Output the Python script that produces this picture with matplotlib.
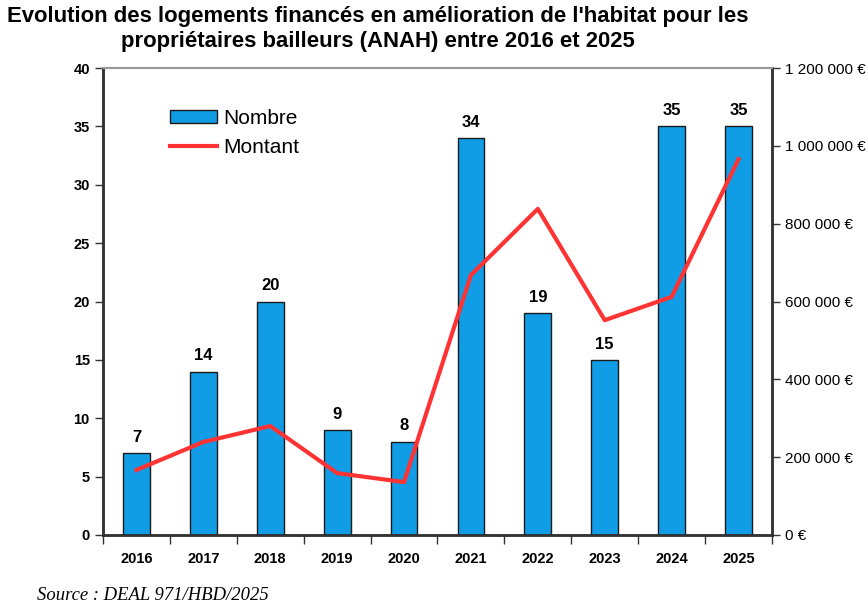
import matplotlib
matplotlib.use("Agg")
import matplotlib.pyplot as plt
import numpy as np
from matplotlib.ticker import FuncFormatter

years = ["2016", "2017", "2018", "2019", "2020", "2021", "2022", "2023", "2024", "2025"]
nombre = [7, 14, 20, 9, 8, 34, 19, 15, 35, 35]
montant = [167000, 239000, 280000, 159000, 136000, 668000, 838000, 552000, 612000, 966000]

plt.rcParams['font.family'] = ['Liberation Sans', 'DejaVu Sans']

fig = plt.figure(figsize=(8.68, 6.07), dpi=100)
ax = fig.add_axes([103/868, 72/607, 669/868, 467/607])
x = np.arange(len(years))
ax.bar(x, nombre, width=0.4, color='#109de6', edgecolor='#1a1a1a', linewidth=1.0, label='Nombre', zorder=2)
for xi, v in zip(x, nombre):
    ax.text(xi, v + 0.7, str(v), ha='center', va='bottom', fontsize=12, fontweight='bold')
ax.set_xlim(-0.5, len(years) - 0.5)
ax.set_ylim(0, 40)
ax.set_yticks(range(0, 41, 5))
ax.set_xticks(x)
ax.set_xticklabels(years, fontweight='bold', fontsize=10.5)
ax.tick_params(axis='x', length=0, pad=12)
ax.set_xticks(np.arange(-0.5, len(years), 1), minor=True)
ax.tick_params(axis='x', which='minor', length=6.5, width=1, color='#333333')
ax.tick_params(axis='y', length=6, width=1, color='#333333', labelsize=10.5)
for lab in ax.get_yticklabels():
    lab.set_fontweight('bold')

ax2 = ax.twinx()
ax2.plot(x, montant, color='#ff3333', linewidth=3, label='Montant', zorder=3)
ax2.set_ylim(0, 1200000)
ax2.set_yticks(range(0, 1200001, 200000))
ax2.yaxis.set_major_formatter(FuncFormatter(lambda v, p: ('{:,.0f}'.format(v).replace(',', ' ') + ' €')))
ax2.tick_params(axis='y', length=6, width=1, color='#333333', labelsize=11)

for a in (ax, ax2):
    for s in ('left', 'right', 'bottom'):
        a.spines[s].set_color('#333333')
        a.spines[s].set_linewidth(1.8)
    a.spines['top'].set_color('#999999')
    a.spines['top'].set_linewidth(1.5)

h1, l1 = ax.get_legend_handles_labels()
h2, l2 = ax2.get_legend_handles_labels()
ax.legend(h1 + h2, l1 + l2, loc='upper left', bbox_to_anchor=(0.088, 0.931), frameon=False,
          fontsize=15, handlelength=2.25, handleheight=0.6, handletextpad=0.3,
          labelspacing=0.5, borderaxespad=0)

fig.text(0.435, 0.99, "Evolution des logements financés en amélioration de l'habitat pour les\npropriétaires bailleurs (ANAH) entre 2016 et 2025",
         ha='center', va='top', fontsize=15.9, fontweight='bold', linespacing=1.25,
         family=['Liberation Sans Narrow', 'Liberation Sans', 'DejaVu Sans'])
fig.text(37/868, 1 - 596/607, "Source : DEAL 971/HBD/2025", ha='left', va='center', fontsize=13.4,
         style='italic', family=['Liberation Serif', 'DejaVu Serif'])

fig.savefig('out.png', dpi=100)
